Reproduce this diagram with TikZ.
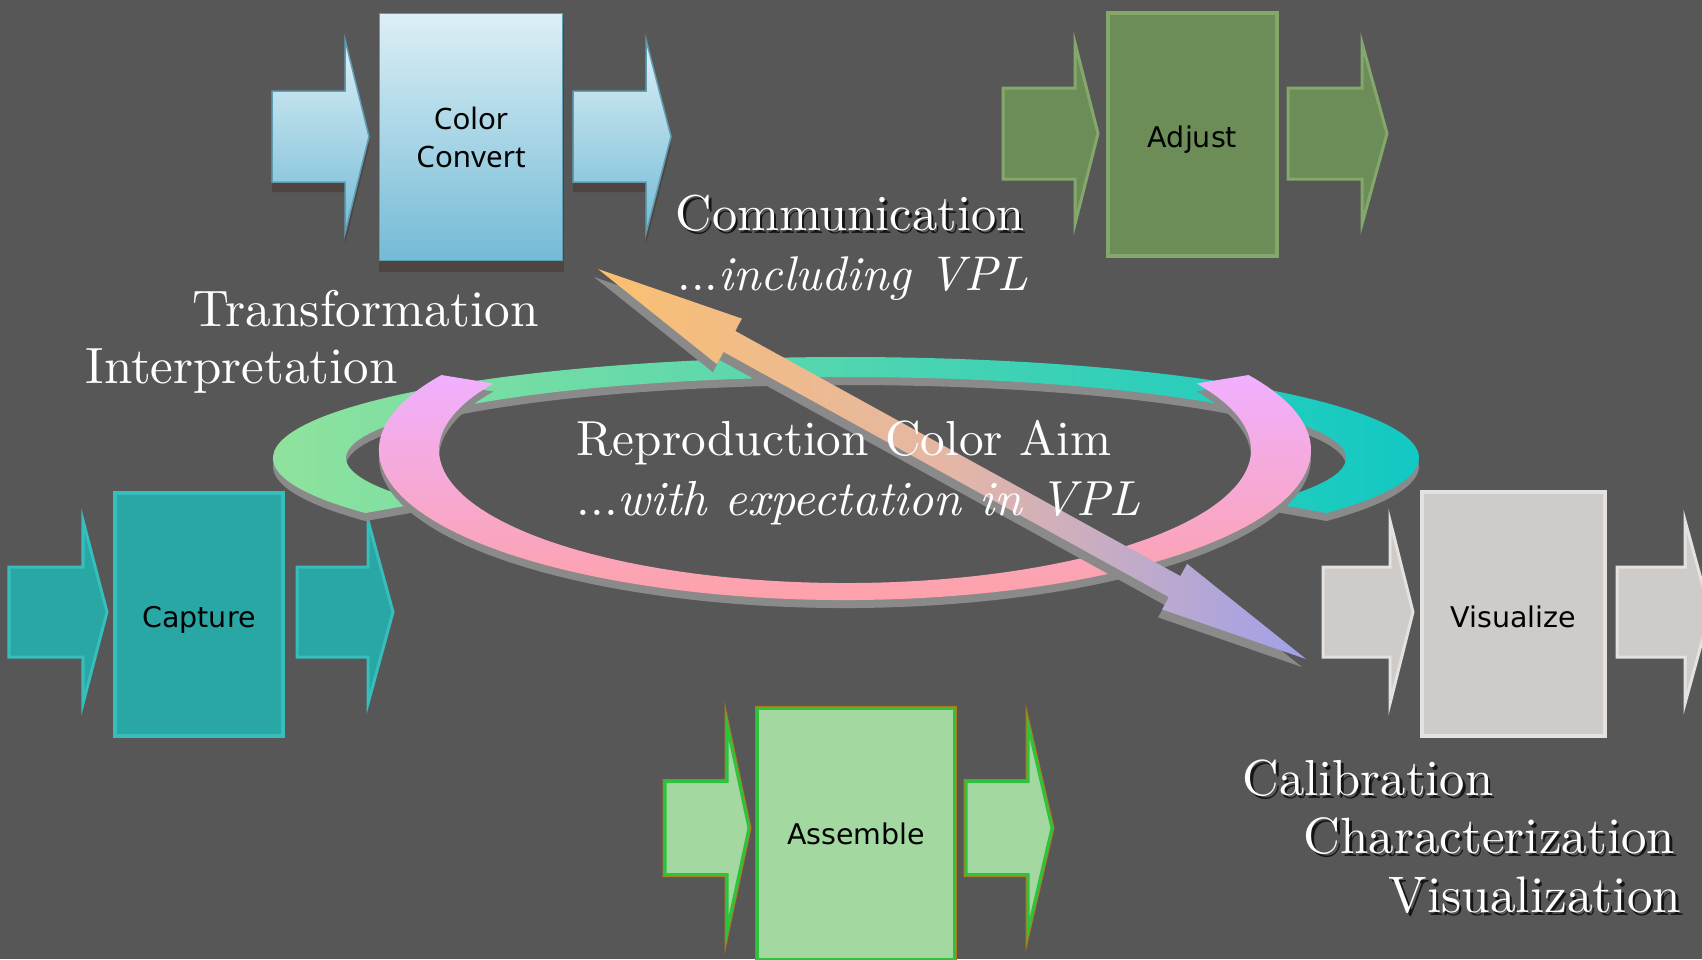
\documentclass[tikz,border=0pt]{standalone}
\usepackage{fontspec}
\setmainfont{lmroman10}[Extension=.otf, UprightFont=*-regular, ItalicFont=*-italic, BoldFont=*-bold]
\newfontfamily\blocksans{DejaVu Sans}
\newfontfamily\convsans{Noto Sans}

\definecolor{canvas}{HTML}{575757}
\definecolor{ringshadow}{HTML}{8A8A8A}
\definecolor{cctop}{HTML}{DCEFF6}
\definecolor{ccbot}{HTML}{74BBD6}
\definecolor{ccedge}{HTML}{5E9CB2}
\definecolor{ccshade}{HTML}{4E4540}
\definecolor{adjmain}{HTML}{6C8D57}
\definecolor{adjedge}{HTML}{84A86A}
\definecolor{capmain}{HTML}{29A7A5}
\definecolor{capedge}{HTML}{36BEBC}
\definecolor{vismain}{HTML}{CECBC8}
\definecolor{visedge}{HTML}{E4E2E0}
\definecolor{asmmain}{HTML}{A3D9A0}
\definecolor{asmedge}{HTML}{2EC23E}
\definecolor{asmrim}{HTML}{B07A1A}
\definecolor{greenL}{HTML}{98E49A}
\definecolor{greenR}{HTML}{0EC8C4}
\definecolor{pinkT}{HTML}{F0B0FF}
\definecolor{pinkB}{HTML}{FFA0A0}
\definecolor{arrowL}{HTML}{FAC070}
\definecolor{arrowM}{HTML}{E4B6A6}
\definecolor{arrowR}{HTML}{A0A0EA}

% block arrow: #1 options, #2 shaft left, #3 head base, #4 tip,
% #5 centre line (measured downwards), #6 shaft half height, #7 head half height
\newcommand\blkarrow[7]{%
  \path[#1] ({#2},{-(#5-#6)}) -- ({#3},{-(#5-#6)}) -- ({#3},{-(#5-#7)})
    -- ({#4},{-#5}) -- ({#3},{-(#5+#7)}) -- ({#3},{-(#5+#6)})
    -- ({#2},{-(#5+#6)}) -- cycle;}

% outer green/teal band running over the top
\newcommand\greenband[1]{%
  \path[#1] ([shift={(846,-458)}]213:573 and 101)
    arc[start angle=213,end angle=-33,x radius=573,y radius=101]
    -- ([shift={(846,-458)}]-33:500 and 81)
    arc[start angle=-33,end angle=213,x radius=500,y radius=81] -- cycle;}

% pink band running under the bottom
\newcommand\pinkband[1]{%
  \path[#1] ([shift={(845,-450)}]150:466 and 150)
    arc[start angle=150,end angle=390,x radius=466,y radius=150]
    -- ([shift={(845,-450)}]30:406 and 133)
    arc[start angle=390,end angle=150,x radius=406,y radius=133] -- cycle;}

% double headed diagonal arrow
\newcommand\diagarrow[1]{%
  \path[#1] (598,-269) -- (741.9,-318.6) -- (735.2,-330.9) -- (1180.4,-576.1)
    -- (1187.1,-563.8) -- (1306,-659) -- (1162.1,-609.4) -- (1168.8,-597.1)
    -- (723.6,-351.9) -- (716.9,-364.2) -- cycle;}

\newcommand\fsz[1]{\fontsize{#1}{17}\selectfont}
\newcommand\lowered[2]{\raisebox{-#1}[\height][\depth]{#2}}

\begin{document}
\begin{tikzpicture}[x=0.01cm, y=0.01cm,
  lbl/.style={text=white, inner sep=0pt, anchor=base west},
  lblsh/.style={lbl, text=black, text opacity=0.75},
  blocklabel/.style={rectangle, inner sep=0pt, text=black, align=center,
    font=\blocksans\fontsize{8.1}{9.6}\selectfont},
  ccarrow/.style={top color=cctop, bottom color=ccbot, draw=ccedge, line width=0.015cm},
  ccbox/.style={blocklabel, top color=cctop, bottom color=ccbot, draw=ccedge, line width=0.015cm,
    font=\convsans\fontsize{8.4}{10.8}\selectfont},
  adjarrow/.style={fill=adjmain, draw=adjedge, line width=0.03cm},
  adjbox/.style={blocklabel, fill=adjmain, draw=adjedge, line width=0.04cm},
  caparrow/.style={fill=capmain, draw=capedge, line width=0.03cm},
  capbox/.style={blocklabel, fill=capmain, draw=capedge, line width=0.04cm},
  visarrow/.style={fill=vismain, draw=visedge, line width=0.03cm},
  visbox/.style={blocklabel, fill=vismain, draw=visedge, line width=0.04cm},
  asmarrow/.style={preaction={draw=asmrim, line width=0.05cm}, fill=asmmain, draw=asmedge, line width=0.03cm},
  asmbox/.style={blocklabel, preaction={draw=asmrim, line width=0.05cm}, fill=asmmain, draw=asmedge, line width=0.03cm},
]
\fill[canvas] (0,0) rectangle (1702,-959);
\useasboundingbox (0,0) rectangle (1702,-959);

% Color Convert stage
\blkarrow{fill=ccshade, shift={(0,-10)}}{272}{345}{369}{136.5}{45.5}{97}
\blkarrow{fill=ccshade, shift={(0,-10)}}{573}{646}{671}{136.5}{45.5}{97}
\blkarrow{ccarrow}{272}{345}{369}{136.5}{45.5}{97}
\blkarrow{ccarrow}{573}{646}{671}{136.5}{45.5}{97}
\fill[ccshade] (379,-23) rectangle (564,-272);
\node[ccbox, minimum width=1.83cm, minimum height=2.47cm] (convert) at (471,-137) {Color\\Convert};

% Adjust stage
\blkarrow{adjarrow}{1003}{1075}{1098}{133.5}{45.5}{90.5}
\blkarrow{adjarrow}{1288}{1362}{1387}{133.5}{45.5}{90.5}
\node[adjbox, minimum width=1.69cm, minimum height=2.43cm] (adjust) at (1192.5,-134.5) {\lowered{0.055cm}{Adjust}};

% Capture stage
\blkarrow{caparrow}{9}{83}{107}{612}{45}{91.5}
\blkarrow{caparrow}{297}{368}{393}{612}{45}{91.5}
\node[capbox, minimum width=1.68cm, minimum height=2.43cm] (capture) at (199,-614.5) {\lowered{0.055cm}{Capture}};

% Visualize stage
\blkarrow{visarrow}{1323}{1390}{1413}{612}{45}{91.5}
\blkarrow{visarrow}{1617}{1685}{1710}{612}{45}{91.5}
\node[visbox, minimum width=1.83cm, minimum height=2.44cm] (visualize) at (1513.5,-614) {\lowered{0.025cm}{Visualize}};

% Assemble stage
\blkarrow{asmarrow}{665}{727}{749}{828}{46.5}{103}
\blkarrow{asmarrow}{966}{1028}{1052}{828}{46.5}{103}
\node[asmbox, minimum width=1.97cm, minimum height=2.5cm] (assemble) at (856,-834) {Assemble};

% central cycle
\greenband{fill=ringshadow, shift={(0,-8)}}
\greenband{left color=greenL, right color=greenR}
\pinkband{fill=ringshadow, shift={(0,-8)}}
\pinkband{top color=pinkT, bottom color=pinkB}
\diagarrow{fill=ringshadow, shift={(-4,-8)}}
\diagarrow{left color=arrowL, right color=arrowR, middle color=arrowM}

% captions
\node[lblsh, font=\fsz{14.33}] (commsh) at (677.5,-233) {Communication};
\node[lbl, font=\fsz{14.33}] (comm) at (675,-230) {Communication};
\node[lbl, font=\fsz{13.85}] (incl) at (677,-290) {...\textit{including VPL}};
\node[lbl, font=\fsz{14.6}] (transf) at (192,-326) {Transformation};
\node[lbl, font=\fsz{14.5}] (interp) at (85,-383) {Interpretation};
\node[lbl, font=\fsz{14}] (aim) at (576,-455) {Reproduction Color Aim};
\node[lbl, font=\fsz{14}] (aimsub) at (576,-515) {...\textit{with expectation in VPL}};
\node[lblsh, font=\fsz{14.4}] (calibsh) at (1244.5,-798) {Calibration};
\node[lbl, font=\fsz{14.4}] (calib) at (1242,-795) {Calibration};
\node[lblsh, font=\fsz{14.5}] (characsh) at (1305.5,-856) {Characterization};
\node[lbl, font=\fsz{14.5}] (charac) at (1303,-853) {Characterization};
\node[lblsh, font=\fsz{14.6}] (visualsh) at (1390.5,-915) {Visualization};
\node[lbl, font=\fsz{14.6}] (visual) at (1388,-912) {Visualization};
\end{tikzpicture}
\end{document}
